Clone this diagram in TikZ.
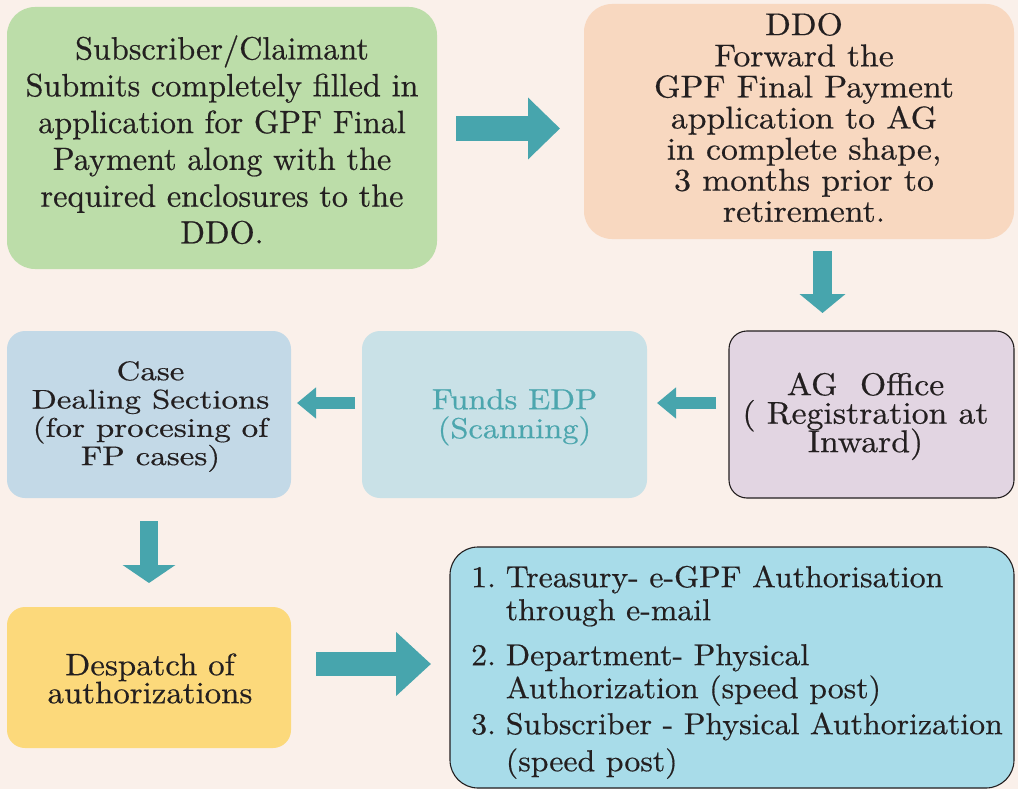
\documentclass[tikz,border=0pt]{standalone}
\usepackage{fontspec}
\setmainfont{lmroman10-regular.otf}[FakeBold=0.5]
\usepackage{array}
\usetikzlibrary{arrows.meta}
\definecolor{bg}{HTML}{FAF0EA}
\definecolor{cgreen}{HTML}{BCDDA9}
\definecolor{cpeach}{HTML}{F8D8C0}
\definecolor{cteal}{HTML}{47A5AD}
\definecolor{ccase}{HTML}{C3D9E7}
\definecolor{cfunds}{HTML}{C9E1E7}
\definecolor{cfundstext}{HTML}{4CA6AE}
\definecolor{cag}{HTML}{E2D5E2}
\definecolor{cyellow}{HTML}{FCD97B}
\definecolor{cbottom}{HTML}{A8DCE9}
\definecolor{ctext}{HTML}{231F20}
\newcolumntype{C}{>{\setbox0=\hbox\bgroup}c<{\egroup\ht0=0pt \dp0=0pt \box0}}
\newcolumntype{L}{>{\setbox0=\hbox\bgroup}l<{\egroup\ht0=0pt \dp0=0pt \box0}}
\newcommand{\wt}[3]{\scalebox{#1}[1]{\begin{tabular}{@{}#2@{}}#3\end{tabular}}}
\begin{document}
\begin{tikzpicture}[x=1pt,y=-1pt,
  box/.style={rectangle, rounded corners=28pt, inner sep=0pt, draw=none},
  edgebox/.style={box, draw=ctext, line width=1.1pt},
  txt/.style={inner sep=0pt, align=center, text=ctext, anchor=north},
  blockarrow/.style={draw=cteal, line width=#1}
]
\useasboundingbox (0,0) rectangle (1018,789);
\fill[bg] (0,0) rectangle (1018,789);

% boxes
\node[box, fill=cgreen, minimum width=430pt, minimum height=262pt] (sub) at (222,138) {};
\node[box, fill=cpeach, minimum width=430pt, minimum height=235pt] (ddo) at (799,121.5) {};
\node[box, fill=ccase, minimum width=284pt, minimum height=167pt, rounded corners=18pt] (case) at (149,414.5) {};
\node[box, fill=cfunds, minimum width=285pt, minimum height=167pt, rounded corners=18pt] (funds) at (504.5,414.5) {};
\node[edgebox, fill=cag, minimum width=285pt, minimum height=167pt, rounded corners=18pt] (ag) at (871.5,414.5) {};
\node[box, fill=cyellow, minimum width=284pt, minimum height=141pt, rounded corners=18pt] (desp) at (149,677.5) {};
\node[edgebox, fill=cbottom, minimum width=564pt, minimum height=241pt, rounded corners=28pt] (auth) at (732,667.5) {};

% texts
\node[txt, font=\fontsize{32.2}{36.8}\selectfont] (subt) at (222,33.5)
  {\wt{1.0}{C}{Subscriber/Claimant\\Submits completely filled in\\application for GPF Final\\Payment along with the\\required enclosures to the\\DDO.}};
\node[txt, font=\fontsize{31.5}{31.1}\selectfont] (ddot) at (804,13.2)
  {\wt{1.07}{C}{DDO\\Forward the\\GPF Final Payment\\application to AG\\in complete shape,\\3 months prior to\\retirement.}};
\node[txt, font=\fontsize{27}{28.3}\selectfont] (caset) at (150.5,360.2)
  {\wt{1.22}{C}{Case\\Dealing Sections\\(for procesing of\\FP cases)}};
\node[txt, text=cfundstext, font=\fontsize{29}{29}\selectfont] (fundst) at (514.5,388.7)
  {\wt{1.12}{C}{Funds EDP\\(Scanning)}};
\node[txt, font=\fontsize{31.5}{28.5}\selectfont] (agt) at (865.5,375)
  {\wt{1.07}{C}{AG\ \ Office\\( Registration at\\Inward)}};
\node[txt, font=\fontsize{31}{28}\selectfont] (despt) at (150,655.4)
  {\wt{1.06}{C}{Despatch of\\authorizations}};
\node[txt, anchor=north west, font=\fontsize{30.3}{33}\selectfont] (autht) at (471,563.9)
  {\wt{1.05}{L}{\makebox[33pt][l]{1.}Treasury- e-GPF Authorisation\\
   \hspace*{33pt}through e-mail\\[12pt]
   \makebox[33pt][l]{2.}Department- Physical\\
   \hspace*{33pt}Authorization (speed post)\\[3pt]
   \makebox[33pt][l]{3.}Subscriber - Physical Authorization\\[4pt]
   \hspace*{33pt}(speed post)}};

% arrows
\coordinate (a1s) at (456,128.5); \coordinate (a1e) at (560,128.5);
\draw[blockarrow=25pt, -{Triangle[width=60pt,length=32pt]}] (a1s) -- (a1e);
\coordinate (a2s) at (822.5,251); \coordinate (a2e) at (822.5,313);
\draw[blockarrow=19pt, -{Triangle[width=45pt,length=19pt]}] (a2s) -- (a2e);
\coordinate (a3s) at (716,403); \coordinate (a3e) at (657,403);
\draw[blockarrow=12pt, -{Triangle[width=30pt,length=19pt]}] (a3s) -- (a3e);
\coordinate (a4s) at (355,403); \coordinate (a4e) at (297,403);
\draw[blockarrow=12pt, -{Triangle[width=30pt,length=19pt]}] (a4s) -- (a4e);
\coordinate (a5s) at (149,521); \coordinate (a5e) at (149,583);
\draw[blockarrow=18pt, -{Triangle[width=52pt,length=18pt]}] (a5s) -- (a5e);
\coordinate (a6s) at (316,664); \coordinate (a6e) at (431,664);
\draw[blockarrow=24pt, -{Triangle[width=62pt,length=35pt]}] (a6s) -- (a6e);
\end{tikzpicture}
\end{document}
